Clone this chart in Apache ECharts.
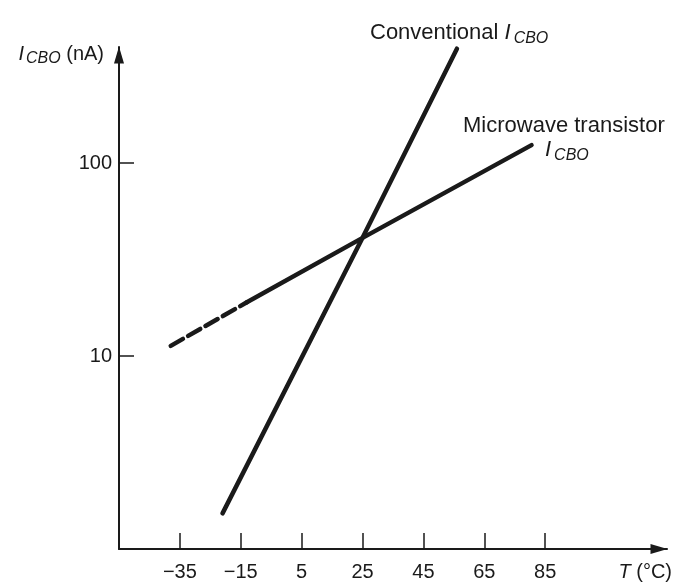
<!DOCTYPE html>
<html>
<head>
<meta charset="utf-8">
<script src="https://cdn.jsdelivr.net/npm/echarts@6/dist/echarts.min.js"></script>
<style>
html,body{margin:0;padding:0;background:#fff;}
#chart{width:686px;height:587px;}
</style>
</head>
<body>
<div id="chart"></div>
<script>
// Temperature ticks (°C)
const tempTicks = [-35, -15, 5, 25, 45, 65, 85];
// Current tick labels (nA), log scale
const currentTicks = [10, 100];
// Conventional I_CBO line
const convT = [-21, 25, 56];
const convI = [1.53, 41, 392];
// Microwave transistor I_CBO: dashed (extrapolated) part
const microDashT = [-38, -13];
const microDashI = [11.3, 19];
// Microwave transistor I_CBO: solid part
const microT = [-13, 25, 80.5];
const microI = [19, 41, 124];

const FONT = '"Liberation Sans", Arial, Helvetica, sans-serif';
const INK = '#1a1a1a';

function pairs(xs, ys) { return xs.map((x, i) => [x, ys[i]]); }

const chart = echarts.init(document.getElementById('chart'), null, {renderer: 'canvas'});

const lineBase = {
  type: 'line',
  showSymbol: false,
  symbol: 'none',
  silent: true,
  animation: false
};

chart.setOption({
  backgroundColor: '#ffffff',
  animation: false,
  grid: {left: 119, right: 19, top: 47, bottom: 38, containLabel: false},
  xAxis: {
    type: 'value',
    min: -55,
    max: 125,
    splitLine: {show: false},
    axisLine: {
      onZero: false,
      lineStyle: {color: INK, width: 2},
      symbol: ['none', 'triangle'],
      symbolSize: [10, 17],
      symbolOffset: [0, -8]
    },
    axisTick: {
      inside: true, length: 16,
      customValues: tempTicks,
      lineStyle: {color: INK, width: 1.5}
    },
    axisLabel: {
      customValues: tempTicks,
      margin: 13,
      fontFamily: FONT, fontSize: 20, color: INK,
      formatter: v => (v < 0 ? '\u2212' + Math.abs(v) : String(v))
    },
    name: '{i|T} (°C)',
    nameLocation: 'end',
    nameGap: 5,
    nameTextStyle: {
      fontFamily: FONT, fontSize: 20, color: INK,
      align: 'right', verticalAlign: 'top', padding: [13, 0, 0, 0],
      rich: {i: {fontFamily: FONT, fontSize: 20, fontStyle: 'italic', color: INK}}
    }
  },
  yAxis: {
    type: 'log',
    logBase: 10,
    min: 1,
    max: 400,
    splitLine: {show: false},
    axisLine: {
      onZero: false,
      lineStyle: {color: INK, width: 2},
      symbol: ['none', 'triangle'],
      symbolSize: [10, 17],
      symbolOffset: [0, -8]
    },
    axisTick: {
      inside: true, length: 15,
      customValues: currentTicks,
      lineStyle: {color: INK, width: 1.5}
    },
    axisLabel: {
      customValues: currentTicks,
      margin: 7,
      fontFamily: FONT, fontSize: 20, color: INK,
      formatter: v => String(Math.round(v))
    },
    name: '{i|I}{s|CBO} (nA)',
    nameLocation: 'end',
    nameGap: -7,
    nameTextStyle: {
      fontFamily: FONT, fontSize: 20, color: INK,
      align: 'right', verticalAlign: 'middle', padding: [0, 15, 0, 0],
      rich: {
        i: {fontFamily: FONT, fontSize: 20, fontStyle: 'italic', color: INK},
        s: {fontFamily: FONT, fontSize: 16, fontStyle: 'italic', color: INK, padding: [10, 0, 0, 2]}
      }
    }
  },
  series: [
    Object.assign({}, lineBase, {
      name: 'Conventional',
      data: pairs(convT, convI),
      lineStyle: {color: INK, width: 4.5, cap: 'round'}
    }),
    Object.assign({}, lineBase, {
      name: 'Microwave dashed',
      data: pairs(microDashT, microDashI),
      lineStyle: {color: INK, width: 4.5, cap: 'round', type: [14, 6]}
    }),
    Object.assign({}, lineBase, {
      name: 'Microwave',
      data: pairs(microT, microI),
      lineStyle: {color: INK, width: 4.5, cap: 'round'}
    })
  ],
  graphic: [
    {
      type: 'text', left: 370, top: 22, silent: true,
      style: {
        text: '{a|Conventional }{i|I}{s|CBO}',
        rich: {
          a: {fontFamily: FONT, fontSize: 22, fill: INK},
          i: {fontFamily: FONT, fontSize: 22, fontStyle: 'italic', fill: INK},
          s: {fontFamily: FONT, fontSize: 16, fontStyle: 'italic', fill: INK, padding: [11, 0, 0, 3]}
        }
      }
    },
    {
      type: 'text', left: 463, top: 115, silent: true,
      style: {
        text: 'Microwave transistor',
        fontFamily: FONT, fontSize: 22, fill: INK
      }
    },
    {
      type: 'text', left: 545, top: 139, silent: true,
      style: {
        text: '{i|I}{s|CBO}',
        rich: {
          i: {fontFamily: FONT, fontSize: 22, fontStyle: 'italic', fill: INK},
          s: {fontFamily: FONT, fontSize: 16, fontStyle: 'italic', fill: INK, padding: [11, 0, 0, 3]}
        }
      }
    }
  ]
});
</script>
</body>
</html>
